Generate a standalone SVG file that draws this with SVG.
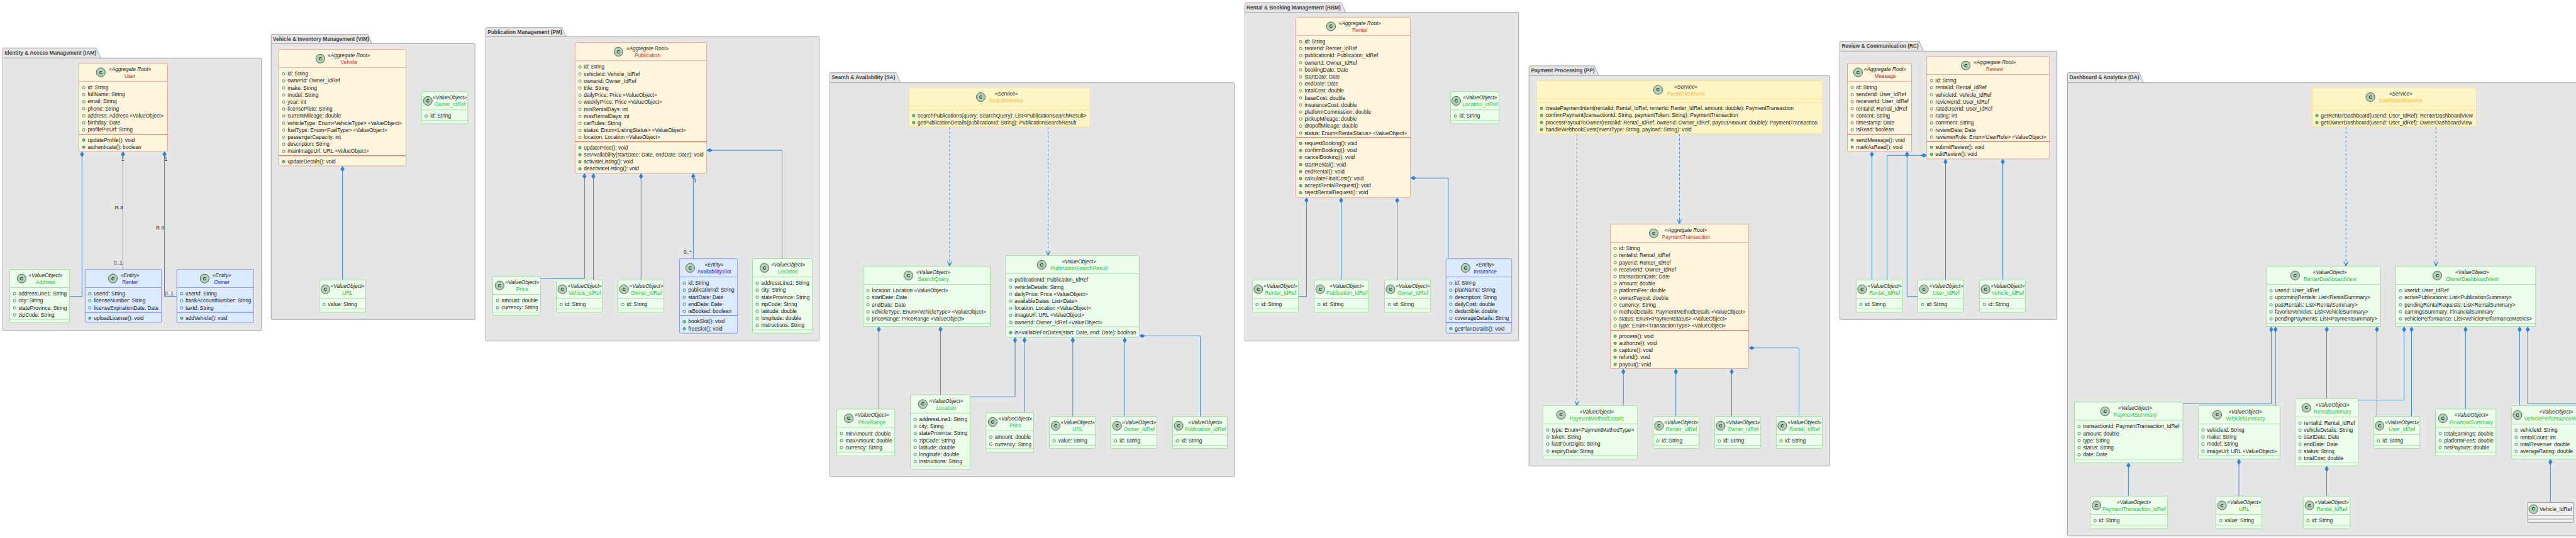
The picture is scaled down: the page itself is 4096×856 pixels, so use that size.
<svg xmlns="http://www.w3.org/2000/svg" width="4096" height="856" viewBox="0 0 4096 856">
<style>
text{font-family:"Liberation Sans",Arial,sans-serif;font-size:8.35px;fill:#222}
.pkg path,.pkg rect{fill:#E6E6E6;stroke:#A3A3A3;stroke-width:1}
.pkg text{font-weight:bold;fill:#444}
.conn path{fill:none;stroke:#3A8DD8;stroke-width:1}
.conn .c{marker-start:url(#dia)}
.conn .dep{stroke-dasharray:4 3;marker-end:url(#vee)}
.conn text{fill:#333}
.node rect{stroke-width:.9}
.node path{fill:none;stroke-width:.8}
.node circle{fill:#ADD1B2;stroke:#2a2a2a;stroke-width:.7}
.node .ic{font-size:7px;font-weight:bold;text-anchor:middle;fill:#1a1a1a}
.node .s{font-style:italic;text-anchor:middle;font-size:8.3px}
.node .n{text-anchor:middle}
.ar rect{fill:#FFF6DD;stroke:#E89B90}.ar .h{stroke:#E89B90}.ar .d{stroke:#C62828}.ar .n{fill:#D32F2F}
.vo rect{fill:#EDFFEC;stroke:#90E090}.vo .h{stroke:#90E090}.vo .d{stroke:#90E090}.vo .n{fill:#22C83C}
.en rect{fill:#DCEBFF;stroke:#8C8CEE}.en .h{stroke:#8C8CEE}.en .d{stroke:#3333CC}.en .n{fill:#2222DD}
.sv rect{fill:#FFF6C8;stroke:#FFD97A}.sv .h{stroke:#FFD97A}.sv .d{stroke:#FFD97A}.sv .n{fill:#FFB52E}
.pl rect{fill:#F1F1F1;stroke:#888}.pl .h{stroke:#888}
</style>
<defs>
<marker id="dia" viewBox="0 -3.4 9.6 6.8" refX="0" refY="0" markerUnits="userSpaceOnUse" markerWidth="9.6" markerHeight="6.8" orient="auto"><path d="M0 0L4.8-3.2L9.6 0L4.8 3.2Z" fill="#2A86D8"/></marker>
<marker id="vee" viewBox="-9 -5 10 10" refX="0" refY="0" markerUnits="userSpaceOnUse" markerWidth="10" markerHeight="10" orient="auto"><path d="M-7.6-3.4L0 0L-7.6 3.4M-6 0H0" fill="none" stroke="#2A86D8" stroke-width="1.1"/></marker>
<circle id="f" cx="7.6" r="2.1" fill="none" stroke="#038048" stroke-width=".8"/>
<circle id="m" cx="7.6" r="2.1" fill="#84BE84" stroke="#038048" stroke-width=".8"/>
</defs>

<g id="packages" class="pkg">
<g id="pkg-IAM"><path d="M4.5 92.3V78.4q0-2 2-2H153l7 15.9"/><rect x="4.5" y="92.3" width="411.1" height="433.4" rx="1"/><text x="7.2" y="87">Identity &amp; Access Management (IAM)</text></g>
<g id="pkg-VIM"><path d="M431.2 69.3V56.6q0-2 2-2H584.5l7 14.7"/><rect x="431.2" y="69.3" width="324" height="438.9" rx="1"/><text x="433.9" y="65.2">Vehicle &amp; Inventory Management (VIM)</text></g>
<g id="pkg-PM"><path d="M772.5 58.4V45.7q0-2 2-2H893l7 14.7"/><rect x="772.5" y="58.4" width="530" height="484.2" rx="1"/><text x="775.2" y="54">Publication Management (PM)</text></g>
<g id="pkg-SA"><path d="M1319.5 131.6V117.7q0-2 2-2H1424.8l7 15.9"/><rect x="1319.5" y="131.6" width="643" height="626.7" rx="1"/><text x="1322.2" y="126.4">Search &amp; Availability (SA)</text></g>
<g id="pkg-RBM"><path d="M1979.4 19.7V6.4q0-2 2-2H2132.7l7 15.3"/><rect x="1979.4" y="19.7" width="435.4" height="522.9" rx="1"/><text x="1982.1" y="14.6">Rental &amp; Booking Management (RBM)</text></g>
<g id="pkg-PP"><path d="M2431.2 120.6V106.8q0-2 2-2H2535.2l7 15.8"/><rect x="2431.2" y="120.6" width="478.4" height="620.7" rx="1"/><text x="2434.4" y="115.2">Payment Processing (PP)</text></g>
<g id="pkg-RC"><path d="M2925.3 81.3V67.5q0-2 2-2H3051.3l7 15.8"/><rect x="2925.3" y="81.3" width="345.4" height="426.9" rx="1"/><text x="2928.4" y="76">Review &amp; Communication (RC)</text></g>
<g id="pkg-DA"><path d="M3287.5 131.6V117.7q0-2 2-2H3401.5l7 15.9"/><rect x="3287.5" y="131.6" width="830" height="721.1" rx="1"/><text x="3290.6" y="126.4">Dashboard &amp; Analytics (DA)</text></g>
</g>

<g id="connectors" class="conn">
<path class="c" d="M130.4 240.7V471.7H110.3"/>
<path class="c" d="M195.5 240.7V428.5"/>
<path class="c" d="M261.6 240.7V471.7H281.2"/>
<text x="193" y="256.2">1</text><text x="182.6" y="333.2">is a</text><text x="180.8" y="421">0..1</text>
<text x="261.5" y="256.2">1</text><text x="248" y="365">is a</text><text x="262" y="470.3">0..1</text>
<path class="c" d="M544.6 264.2V445.5"/>
<path class="c" d="M929.4 275.6V443.3H859.7"/>
<path class="c" d="M943.5 275.6V445.5"/>
<path class="c" d="M1019.3 275.6V445.5"/>
<path class="c" d="M1102.3 275.6V411.6"/>
<text x="1103" y="289.6">1</text><text x="1087" y="404">0..*</text>
<path class="c" d="M1123.8 239.1H1243.5V411.6"/>
<path class="dep" d="M1510 202V423.6"/>
<path class="dep" d="M1666.6 202V406.7"/>
<path class="c" d="M1397.4 519.2V650.9"/>
<path class="c" d="M1495.4 519.2V628.3"/>
<path class="c" d="M1614 536.6V631.6H1542.5"/>
<path class="c" d="M1629 536.6V656.7"/>
<path class="c" d="M1705.8 536.6V662.7"/>
<path class="c" d="M1788.4 536.6V662.7"/>
<path class="c" d="M1811.4 534.4H1908.6V662.7"/>
<path class="c" d="M2077.4 314V471.7H2064.7"/>
<path class="c" d="M2132.5 314V445.5"/>
<path class="c" d="M2221.6 314V445.5"/>
<path class="c" d="M2242.7 283.3H2302.8V411.6"/>
<path class="dep" d="M2507.4 212.9V645.3"/>
<path class="dep" d="M2670.4 212.9V356.5"/>
<path class="c" d="M2581.2 586.6V645.3"/>
<path class="c" d="M2664.7 586.6V662.7"/>
<path class="c" d="M2753.5 586.6V662.7"/>
<path class="c" d="M2780.6 553.6H2860.6V662.7"/>
<path class="c" d="M2976.4 240.9V445.5"/>
<path class="c" d="M3032.3 240.9V471.7H3049.5"/>
<path class="c" d="M3063.7 247.3H3000.5V445.5"/>
<path class="c" d="M3093.5 252.7V445.5"/>
<path class="c" d="M3184.6 252.7V445.5"/>
<path class="dep" d="M3730.3 202V423.6"/>
<path class="dep" d="M3873.3 202V423.6"/>
<path class="c" d="M3611.4 519.4V642.5H3470.9"/>
<path class="c" d="M3618.2 519.4V645.3"/>
<path class="c" d="M3699.6 519.4V634.3"/>
<path class="c" d="M3779.4 519.4V662.7"/>
<path class="c" d="M3822.7 519.4V636.5H3749.7"/>
<path class="c" d="M3834.5 519.4V662.7"/>
<path class="c" d="M3920.4 519.4V650.9"/>
<path class="c" d="M4006.3 519.4V645.7"/>
<path class="c" d="M4019.2 519.4V642.5H4110"/>
<path class="c" d="M3384.4 735.6V789.4"/>
<path class="c" d="M3560 729.9V789.4"/>
<path class="c" d="M3699.6 741.3V789.4"/>
<path class="c" d="M4055.3 730.3V799.3"/>
</g>

<g id="User" class="node ar" transform="translate(125.5,100.4)"><rect width="141" height="140.6" rx="1.5"/><path class="h" d="M0 29H141"/><path class="d" d="M0 113.2H141"/><circle cx="34.8" cy="14.7" r="7.1"/><text class="ic" x="34.8" y="17.2">C</text><text class="s" x="81.2" y="12.5">«Aggregate Root»</text><text class="n" x="81.2" y="23.7">User</text>
<use href="#f" y="38.9"/><text x="13.9" y="41.7">id: String</text><use href="#f" y="50.1"/><text x="13.9" y="52.9">fullName: String</text><use href="#f" y="61.3"/><text x="13.9" y="64.1">email: String</text><use href="#f" y="72.5"/><text x="13.9" y="75.3">phone: String</text><use href="#f" y="83.7"/><text x="13.9" y="86.5">address: Address «ValueObject»</text><use href="#f" y="94.9"/><text x="13.9" y="97.7">birthday: Date</text><use href="#f" y="106.1"/><text x="13.9" y="108.9">profilePicUrl: String</text>
<use href="#m" y="122.5"/><text x="13.9" y="125.3">updateProfile(): void</text><use href="#m" y="133.7"/><text x="13.9" y="136.5">authenticate(): boolean</text></g>

<g id="Address" class="node vo" transform="translate(15.6,428.5)"><rect width="94.7" height="84.6" rx="1.5"/><path class="h" d="M0 29H94.7"/><path class="d" d="M0 79.6H94.7"/><circle cx="18.8" cy="14.7" r="7.1"/><text class="ic" x="18.8" y="17.2">C</text><text class="s" x="57" y="12.5">«ValueObject»</text><text class="n" x="57" y="23.7">Address</text>
<use href="#f" y="38.9"/><text x="13.9" y="41.7">addressLine1: String</text><use href="#f" y="50.1"/><text x="13.9" y="52.9">city: String</text><use href="#f" y="61.3"/><text x="13.9" y="64.1">stateProvince: String</text><use href="#f" y="72.5"/><text x="13.9" y="75.3">zipCode: String</text></g>

<g id="Renter" class="node en" transform="translate(135.3,428.5)"><rect width="121.4" height="84.6" rx="1.5"/><path class="h" d="M0 29H121.4"/><path class="d" d="M0 68.4H121.4"/><circle cx="44.2" cy="14.7" r="7.1"/><text class="ic" x="44.2" y="17.2">C</text><text class="s" x="71.4" y="12.5">«Entity»</text><text class="n" x="71.4" y="23.7">Renter</text>
<use href="#f" y="38.9"/><text x="13.9" y="41.7">userId: String</text><use href="#f" y="50.1"/><text x="13.9" y="52.9">licenseNumber: String</text><use href="#f" y="61.3"/><text x="13.9" y="64.1">licenseExpirationDate: Date</text><use href="#m" y="77.7"/><text x="13.9" y="80.5">uploadLicense(): void</text></g>

<g id="Owner" class="node en" transform="translate(281.2,428.5)"><rect width="122.3" height="84.6" rx="1.5"/><path class="h" d="M0 29H122.3"/><path class="d" d="M0 68.4H122.3"/><circle cx="44.2" cy="14.7" r="7.1"/><text class="ic" x="44.2" y="17.2">C</text><text class="s" x="71.5" y="12.5">«Entity»</text><text class="n" x="71.5" y="23.7">Owner</text>
<use href="#f" y="38.9"/><text x="13.9" y="41.7">userId: String</text><use href="#f" y="50.1"/><text x="13.9" y="52.9">bankAccountNumber: String</text><use href="#f" y="61.3"/><text x="13.9" y="64.1">taxId: String</text><use href="#m" y="77.7"/><text x="13.9" y="80.5">addVehicle(): void</text></g>

<g id="Vehicle" class="node ar" transform="translate(443.3,78.6)"><rect width="202.2" height="185.4" rx="1.5"/><path class="h" d="M0 29H202.2"/><path class="d" d="M0 169.2H202.2"/><circle cx="66" cy="14.7" r="7.1"/><text class="ic" x="66" y="17.2">C</text><text class="s" x="111.6" y="12.5">«Aggregate Root»</text><text class="n" x="111.6" y="23.7">Vehicle</text>
<use href="#f" y="38.9"/><text x="13.9" y="41.7">id: String</text><use href="#f" y="50.1"/><text x="13.9" y="52.9">ownerId: Owner_IdRef</text><use href="#f" y="61.3"/><text x="13.9" y="64.1">make: String</text><use href="#f" y="72.5"/><text x="13.9" y="75.3">model: String</text><use href="#f" y="83.7"/><text x="13.9" y="86.5">year: int</text><use href="#f" y="94.9"/><text x="13.9" y="97.7">licensePlate: String</text><use href="#f" y="106.1"/><text x="13.9" y="108.9">currentMileage: double</text><use href="#f" y="117.3"/><text x="13.9" y="120.1">vehicleType: Enum&lt;VehicleType&gt; «ValueObject»</text><use href="#f" y="128.5"/><text x="13.9" y="131.3">fuelType: Enum&lt;FuelType&gt; «ValueObject»</text><use href="#f" y="139.7"/><text x="13.9" y="142.5">passengerCapacity: int</text><use href="#f" y="150.9"/><text x="13.9" y="153.7">description: String</text><use href="#f" y="162.1"/><text x="13.9" y="164.9">mainImageUrl: URL «ValueObject»</text><use href="#m" y="178.5"/><text x="13.9" y="181.3">updateDetails(): void</text></g>

<g id="VIM-URL" class="node vo" transform="translate(507.6,445.5)"><rect width="74.1" height="51" rx="1.5"/><path class="h" d="M0 29H74.1"/><path class="d" d="M0 46H74.1"/><circle cx="9.8" cy="14.7" r="7.1"/><text class="ic" x="9.8" y="17.2">C</text><text class="s" x="45" y="12.5">«ValueObject»</text><text class="n" x="45" y="23.7">URL</text><use href="#f" y="38.9"/><text x="13.9" y="41.7">value: String</text></g>

<g id="VIM-Owner_IdRef" class="node vo" transform="translate(670.3,145.8)"><rect width="73.5" height="51" rx="1.5"/><path class="h" d="M0 29H73.5"/><path class="d" d="M0 46H73.5"/><circle cx="9.9" cy="14.7" r="7.1"/><text class="ic" x="9.9" y="17.2">C</text><text class="s" x="45.1" y="12.5">«ValueObject»</text><text class="n" x="45.1" y="23.7">Owner_IdRef</text><use href="#f" y="38.9"/><text x="13.9" y="41.7">id: String</text></g>

<g id="Publication" class="node ar" transform="translate(914.4,67.7)"><rect width="209.4" height="207.8" rx="1.5"/><path class="h" d="M0 29H209.4"/><path class="d" d="M0 158H209.4"/><circle cx="68.9" cy="14.7" r="7.1"/><text class="ic" x="68.9" y="17.2">C</text><text class="s" x="115.2" y="12.5">«Aggregate Root»</text><text class="n" x="115.2" y="23.7">Publication</text>
<use href="#f" y="38.9"/><text x="13.9" y="41.7">id: String</text><use href="#f" y="50.1"/><text x="13.9" y="52.9">vehicleId: Vehicle_IdRef</text><use href="#f" y="61.3"/><text x="13.9" y="64.1">ownerId: Owner_IdRef</text><use href="#f" y="72.5"/><text x="13.9" y="75.3">title: String</text><use href="#f" y="83.7"/><text x="13.9" y="86.5">dailyPrice: Price «ValueObject»</text><use href="#f" y="94.9"/><text x="13.9" y="97.7">weeklyPrice: Price «ValueObject»</text><use href="#f" y="106.1"/><text x="13.9" y="108.9">minRentalDays: int</text><use href="#f" y="117.3"/><text x="13.9" y="120.1">maxRentalDays: int</text><use href="#f" y="128.5"/><text x="13.9" y="131.3">carRules: String</text><use href="#f" y="139.7"/><text x="13.9" y="142.5">status: Enum&lt;ListingStatus&gt; «ValueObject»</text><use href="#f" y="150.9"/><text x="13.9" y="153.7">location: Location «ValueObject»</text>
<use href="#m" y="167.3"/><text x="13.9" y="170.1">updatePrice(): void</text><use href="#m" y="178.5"/><text x="13.9" y="181.3">setAvailability(startDate: Date, endDate: Date): void</text><use href="#m" y="189.7"/><text x="13.9" y="192.5">activateListing(): void</text><use href="#m" y="200.9"/><text x="13.9" y="203.7">deactivateListing(): void</text></g>

<g id="PM-Price" class="node vo" transform="translate(783.6,439.5)"><rect width="76.1" height="62.2" rx="1.5"/><path class="h" d="M0 29H76.1"/><path class="d" d="M0 57.2H76.1"/><circle cx="10.7" cy="14.7" r="7.1"/><text class="ic" x="10.7" y="17.2">C</text><text class="s" x="46.7" y="12.5">«ValueObject»</text><text class="n" x="46.7" y="23.7">Price</text><use href="#f" y="38.9"/><text x="13.9" y="41.7">amount: double</text><use href="#f" y="50.1"/><text x="13.9" y="52.9">currency: String</text></g>

<g id="PM-Vehicle_IdRef" class="node vo" transform="translate(884.6,445.5)"><rect width="73.1" height="51" rx="1.5"/><path class="h" d="M0 29H73.1"/><path class="d" d="M0 46H73.1"/><circle cx="9.6" cy="14.7" r="7.1"/><text class="ic" x="9.6" y="17.2">C</text><text class="s" x="45.2" y="12.5">«ValueObject»</text><text class="n" x="45.2" y="23.7">Vehicle_IdRef</text><use href="#f" y="38.9"/><text x="13.9" y="41.7">id: String</text></g>

<g id="PM-Owner_IdRef" class="node vo" transform="translate(982.6,445.5)"><rect width="73.1" height="51" rx="1.5"/><path class="h" d="M0 29H73.1"/><path class="d" d="M0 46H73.1"/><circle cx="9.6" cy="14.7" r="7.1"/><text class="ic" x="9.6" y="17.2">C</text><text class="s" x="45.1" y="12.5">«ValueObject»</text><text class="n" x="45.1" y="23.7">Owner_IdRef</text><use href="#f" y="38.9"/><text x="13.9" y="41.7">id: String</text></g>

<g id="AvailabilitySlot" class="node en" transform="translate(1080.5,411.6)"><rect width="92.3" height="118.6" rx="1.5"/><path class="h" d="M0 29H92.3"/><path class="d" d="M0 90.8H92.3"/><circle cx="16.9" cy="14.7" r="7.1"/><text class="ic" x="16.9" y="17.2">C</text><text class="s" x="55.1" y="12.5">«Entity»</text><text class="n" x="55.1" y="23.7">AvailabilitySlot</text>
<use href="#f" y="38.9"/><text x="13.9" y="41.7">id: String</text><use href="#f" y="50.1"/><text x="13.9" y="52.9">publicationId: String</text><use href="#f" y="61.3"/><text x="13.9" y="64.1">startDate: Date</text><use href="#f" y="72.5"/><text x="13.9" y="75.3">endDate: Date</text><use href="#f" y="83.7"/><text x="13.9" y="86.5">isBooked: boolean</text><use href="#m" y="100.1"/><text x="13.9" y="102.9">bookSlot(): void</text><use href="#m" y="111.3"/><text x="13.9" y="114.1">freeSlot(): void</text></g>

<g id="PM-Location" class="node vo" transform="translate(1196.5,411.6)"><rect width="95.3" height="118.6" rx="1.5"/><path class="h" d="M0 29H95.3"/><path class="d" d="M0 113.2H95.3"/><circle cx="19" cy="14.7" r="7.1"/><text class="ic" x="19" y="17.2">C</text><text class="s" x="56.5" y="12.5">«ValueObject»</text><text class="n" x="56.5" y="23.7">Location</text>
<use href="#f" y="38.9"/><text x="13.9" y="41.7">addressLine1: String</text><use href="#f" y="50.1"/><text x="13.9" y="52.9">city: String</text><use href="#f" y="61.3"/><text x="13.9" y="64.1">stateProvince: String</text><use href="#f" y="72.5"/><text x="13.9" y="75.3">zipCode: String</text><use href="#f" y="83.7"/><text x="13.9" y="86.5">latitude: double</text><use href="#f" y="94.9"/><text x="13.9" y="97.7">longitude: double</text><use href="#f" y="106.1"/><text x="13.9" y="108.9">instructions: String</text></g>

<g id="SearchService" class="node sv" transform="translate(1445.2,139.8)"><rect width="288.3" height="62.2" rx="1.5"/><path class="h" d="M0 29H288.3"/><path class="d" d="M0 34.8H288.3"/><circle cx="114.3" cy="14.7" r="7.1"/><text class="ic" x="114.3" y="17.2">C</text><text class="s" x="155" y="12.5">«Service»</text><text class="n" x="155" y="23.7">SearchService</text>
<use href="#m" y="44.1"/><text x="13.9" y="46.9">searchPublications(query: SearchQuery): List&lt;PublicationSearchResult&gt;</text><use href="#m" y="55.3"/><text x="13.9" y="58.1">getPublicationDetails(publicationId: String): PublicationSearchResult</text></g>

<g id="SearchQuery" class="node vo" transform="translate(1372.4,423.6)"><rect width="202.1" height="95.8" rx="1.5"/><path class="h" d="M0 29H202.1"/><path class="d" d="M0 90.8H202.1"/><circle cx="72" cy="14.7" r="7.1"/><text class="ic" x="72" y="17.2">C</text><text class="s" x="111.6" y="12.5">«ValueObject»</text><text class="n" x="111.6" y="23.7">SearchQuery</text>
<use href="#f" y="38.9"/><text x="13.9" y="41.7">location: Location «ValueObject»</text><use href="#f" y="50.1"/><text x="13.9" y="52.9">startDate: Date</text><use href="#f" y="61.3"/><text x="13.9" y="64.1">endDate: Date</text><use href="#f" y="72.5"/><text x="13.9" y="75.3">vehicleType: Enum&lt;VehicleType&gt; «ValueObject»</text><use href="#f" y="83.7"/><text x="13.9" y="86.5">priceRange: PriceRange «ValueObject»</text></g>

<g id="PublicationSearchResult" class="node vo" transform="translate(1599.4,406.7)"><rect width="212" height="129.7" rx="1.5"/><path class="h" d="M0 29H212"/><path class="d" d="M0 113.2H212"/><circle cx="56.9" cy="14.7" r="7.1"/><text class="ic" x="56.9" y="17.2">C</text><text class="s" x="116.3" y="12.5">«ValueObject»</text><text class="n" x="116.3" y="23.7">PublicationSearchResult</text>
<use href="#f" y="38.9"/><text x="13.9" y="41.7">publicationId: Publication_IdRef</text><use href="#f" y="50.1"/><text x="13.9" y="52.9">vehicleDetails: String</text><use href="#f" y="61.3"/><text x="13.9" y="64.1">dailyPrice: Price «ValueObject»</text><use href="#f" y="72.5"/><text x="13.9" y="75.3">availableDates: List&lt;Date&gt;</text><use href="#f" y="83.7"/><text x="13.9" y="86.5">location: Location «ValueObject»</text><use href="#f" y="94.9"/><text x="13.9" y="97.7">imageUrl: URL «ValueObject»</text><use href="#f" y="106.1"/><text x="13.9" y="108.9">ownerId: Owner_IdRef «ValueObject»</text><use href="#m" y="122.5"/><text x="13.9" y="125.3">isAvailableForDates(start: Date, end: Date): boolean</text></g>

<g id="PriceRange" class="node vo" transform="translate(1330.5,650.9)"><rect width="92.2" height="74.4" rx="1.5"/><path class="h" d="M0 29H92.2"/><path class="d" d="M0 68.4H92.2"/><circle cx="19" cy="14.7" r="7.1"/><text class="ic" x="19" y="17.2">C</text><text class="s" x="55.8" y="12.5">«ValueObject»</text><text class="n" x="55.8" y="23.7">PriceRange</text><use href="#f" y="38.9"/><text x="13.9" y="41.7">minAmount: double</text><use href="#f" y="50.1"/><text x="13.9" y="52.9">maxAmount: double</text><use href="#f" y="61.3"/><text x="13.9" y="64.1">currency: String</text></g>

<g id="SA-Location" class="node vo" transform="translate(1447.6,628.3)"><rect width="94.9" height="118.4" rx="1.5"/><path class="h" d="M0 29H94.9"/><path class="d" d="M0 113.2H94.9"/><circle cx="19.7" cy="14.7" r="7.1"/><text class="ic" x="19.7" y="17.2">C</text><text class="s" x="56.9" y="12.5">«ValueObject»</text><text class="n" x="56.9" y="23.7">Location</text>
<use href="#f" y="38.9"/><text x="13.9" y="41.7">addressLine1: String</text><use href="#f" y="50.1"/><text x="13.9" y="52.9">city: String</text><use href="#f" y="61.3"/><text x="13.9" y="64.1">stateProvince: String</text><use href="#f" y="72.5"/><text x="13.9" y="75.3">zipCode: String</text><use href="#f" y="83.7"/><text x="13.9" y="86.5">latitude: double</text><use href="#f" y="94.9"/><text x="13.9" y="97.7">longitude: double</text><use href="#f" y="106.1"/><text x="13.9" y="108.9">instructions: String</text></g>

<g id="SA-Price" class="node vo" transform="translate(1567.8,656.7)"><rect width="75.9" height="62.6" rx="1.5"/><path class="h" d="M0 29H75.9"/><path class="d" d="M0 57.2H75.9"/><circle cx="10.6" cy="14.7" r="7.1"/><text class="ic" x="10.6" y="17.2">C</text><text class="s" x="46.6" y="12.5">«ValueObject»</text><text class="n" x="46.6" y="23.7">Price</text><use href="#f" y="38.9"/><text x="13.9" y="41.7">amount: double</text><use href="#f" y="50.1"/><text x="13.9" y="52.9">currency: String</text></g>

<g id="SA-URL" class="node vo" transform="translate(1668.6,662.7)"><rect width="73.2" height="51" rx="1.5"/><path class="h" d="M0 29H73.2"/><path class="d" d="M0 46H73.2"/><circle cx="9.9" cy="14.7" r="7.1"/><text class="ic" x="9.9" y="17.2">C</text><text class="s" x="45.1" y="12.5">«ValueObject»</text><text class="n" x="45.1" y="23.7">URL</text><use href="#f" y="38.9"/><text x="13.9" y="41.7">value: String</text></g>

<g id="SA-Owner_IdRef" class="node vo" transform="translate(1766.3,662.7)"><rect width="73.4" height="51" rx="1.5"/><path class="h" d="M0 29H73.4"/><path class="d" d="M0 46H73.4"/><circle cx="9.9" cy="14.7" r="7.1"/><text class="ic" x="9.9" y="17.2">C</text><text class="s" x="45.1" y="12.5">«ValueObject»</text><text class="n" x="45.1" y="23.7">Owner_IdRef</text><use href="#f" y="38.9"/><text x="13.9" y="41.7">id: String</text></g>

<g id="SA-Publication_IdRef" class="node vo" transform="translate(1864.6,662.7)"><rect width="86.8" height="51" rx="1.5"/><path class="h" d="M0 29H86.8"/><path class="d" d="M0 46H86.8"/><circle cx="9.5" cy="14.7" r="7.1"/><text class="ic" x="9.5" y="17.2">C</text><text class="s" x="52" y="12.5">«ValueObject»</text><text class="n" x="52" y="23.7">Publication_IdRef</text><use href="#f" y="38.9"/><text x="13.9" y="41.7">id: String</text></g>

<g id="Rental" class="node ar" transform="translate(2060.5,27.3)"><rect width="182.2" height="286.9" rx="1.5"/><path class="h" d="M0 29H182.2"/><path class="d" d="M0 191.6H182.2"/><circle cx="55.9" cy="14.7" r="7.1"/><text class="ic" x="55.9" y="17.2">C</text><text class="s" x="101.8" y="12.5">«Aggregate Root»</text><text class="n" x="101.8" y="23.7">Rental</text>
<use href="#f" y="38.9"/><text x="13.9" y="41.7">id: String</text><use href="#f" y="50.1"/><text x="13.9" y="52.9">renterId: Renter_IdRef</text><use href="#f" y="61.3"/><text x="13.9" y="64.1">publicationId: Publication_IdRef</text><use href="#f" y="72.5"/><text x="13.9" y="75.3">ownerId: Owner_IdRef</text><use href="#f" y="83.7"/><text x="13.9" y="86.5">bookingDate: Date</text><use href="#f" y="94.9"/><text x="13.9" y="97.7">startDate: Date</text><use href="#f" y="106.1"/><text x="13.9" y="108.9">endDate: Date</text><use href="#f" y="117.3"/><text x="13.9" y="120.1">totalCost: double</text><use href="#f" y="128.5"/><text x="13.9" y="131.3">baseCost: double</text><use href="#f" y="139.7"/><text x="13.9" y="142.5">insuranceCost: double</text><use href="#f" y="150.9"/><text x="13.9" y="153.7">platformCommission: double</text><use href="#f" y="162.1"/><text x="13.9" y="164.9">pickupMileage: double</text><use href="#f" y="173.3"/><text x="13.9" y="176.1">dropoffMileage: double</text><use href="#f" y="184.5"/><text x="13.9" y="187.3">status: Enum&lt;RentalStatus&gt; «ValueObject»</text>
<use href="#m" y="200.9"/><text x="13.9" y="203.7">requestBooking(): void</text><use href="#m" y="212.1"/><text x="13.9" y="214.9">confirmBooking(): void</text><use href="#m" y="223.3"/><text x="13.9" y="226.1">cancelBooking(): void</text><use href="#m" y="234.5"/><text x="13.9" y="237.3">startRental(): void</text><use href="#m" y="245.7"/><text x="13.9" y="248.5">endRental(): void</text><use href="#m" y="256.9"/><text x="13.9" y="259.7">calculateFinalCost(): void</text><use href="#m" y="268.1"/><text x="13.9" y="270.9">acceptRentalRequest(): void</text><use href="#m" y="279.3"/><text x="13.9" y="282.1">rejectRentalRequest(): void</text></g>

<g id="Location_IdRef" class="node vo" transform="translate(2306.6,145.8)"><rect width="77.2" height="51" rx="1.5"/><path class="h" d="M0 29H77.2"/><path class="d" d="M0 46H77.2"/><circle cx="8.8" cy="14.7" r="7.1"/><text class="ic" x="8.8" y="17.2">C</text><text class="s" x="46.7" y="12.5">«ValueObject»</text><text class="n" x="46.7" y="23.7">Location_IdRef</text><use href="#f" y="38.9"/><text x="13.9" y="41.7">id: String</text></g>

<g id="RBM-Renter_IdRef" class="node vo" transform="translate(1991.2,445.5)"><rect width="73.5" height="51" rx="1.5"/><path class="h" d="M0 29H73.5"/><path class="d" d="M0 46H73.5"/><circle cx="9.6" cy="14.7" r="7.1"/><text class="ic" x="9.6" y="17.2">C</text><text class="s" x="45.2" y="12.5">«ValueObject»</text><text class="n" x="45.2" y="23.7">Renter_IdRef</text><use href="#f" y="38.9"/><text x="13.9" y="41.7">id: String</text></g>

<g id="RBM-Publication_IdRef" class="node vo" transform="translate(2089.6,445.5)"><rect width="86.9" height="51" rx="1.5"/><path class="h" d="M0 29H86.9"/><path class="d" d="M0 46H86.9"/><circle cx="9.6" cy="14.7" r="7.1"/><text class="ic" x="9.6" y="17.2">C</text><text class="s" x="52" y="12.5">«ValueObject»</text><text class="n" x="52" y="23.7">Publication_IdRef</text><use href="#f" y="38.9"/><text x="13.9" y="41.7">id: String</text></g>

<g id="RBM-Owner_IdRef" class="node vo" transform="translate(2201.4,445.5)"><rect width="73.4" height="51" rx="1.5"/><path class="h" d="M0 29H73.4"/><path class="d" d="M0 46H73.4"/><circle cx="9.6" cy="14.7" r="7.1"/><text class="ic" x="9.6" y="17.2">C</text><text class="s" x="45.1" y="12.5">«ValueObject»</text><text class="n" x="45.1" y="23.7">Owner_IdRef</text><use href="#f" y="38.9"/><text x="13.9" y="41.7">id: String</text></g>

<g id="Insurance" class="node en" transform="translate(2299.3,411.6)"><rect width="104.4" height="118.6" rx="1.5"/><path class="h" d="M0 29H104.4"/><path class="d" d="M0 102H104.4"/><circle cx="31" cy="14.7" r="7.1"/><text class="ic" x="31" y="17.2">C</text><text class="s" x="62.3" y="12.5">«Entity»</text><text class="n" x="62.3" y="23.7">Insurance</text>
<use href="#f" y="38.9"/><text x="13.9" y="41.7">id: String</text><use href="#f" y="50.1"/><text x="13.9" y="52.9">planName: String</text><use href="#f" y="61.3"/><text x="13.9" y="64.1">description: String</text><use href="#f" y="72.5"/><text x="13.9" y="75.3">dailyCost: double</text><use href="#f" y="83.7"/><text x="13.9" y="86.5">deductible: double</text><use href="#f" y="94.9"/><text x="13.9" y="97.7">coverageDetails: String</text><use href="#m" y="111.3"/><text x="13.9" y="114.1">getPlanDetails(): void</text></g>

<g id="PaymentService" class="node sv" transform="translate(2443.5,128.3)"><rect width="454.2" height="84.6" rx="1.5"/><path class="h" d="M0 29H454.2"/><path class="d" d="M0 34.8H454.2"/><circle cx="192.9" cy="14.7" r="7.1"/><text class="ic" x="192.9" y="17.2">C</text><text class="s" x="237.3" y="12.5">«Service»</text><text class="n" x="237.3" y="23.7">PaymentService</text>
<use href="#m" y="44.1"/><text x="13.9" y="46.9">createPaymentIntent(rentalId: Rental_IdRef, renterId: Renter_IdRef, amount: double): PaymentTransaction</text><use href="#m" y="55.3"/><text x="13.9" y="58.1">confirmPayment(transactionId: String, paymentToken: String): PaymentTransaction</text><use href="#m" y="66.5"/><text x="13.9" y="69.3">processPayoutToOwner(rentalId: Rental_IdRef, ownerId: Owner_IdRef, payoutAmount: double): PaymentTransaction</text><use href="#m" y="77.7"/><text x="13.9" y="80.5">handleWebhookEvent(eventType: String, payload: String): void</text></g>

<g id="PaymentTransaction" class="node ar" transform="translate(2560.6,356.5)"><rect width="220" height="230" rx="1.5"/><path class="h" d="M0 29H220"/><path class="d" d="M0 169.2H220"/><circle cx="68.9" cy="14.7" r="7.1"/><text class="ic" x="68.9" y="17.2">C</text><text class="s" x="120.2" y="12.5">«Aggregate Root»</text><text class="n" x="120.2" y="23.7">PaymentTransaction</text>
<use href="#f" y="38.9"/><text x="13.9" y="41.7">id: String</text><use href="#f" y="50.1"/><text x="13.9" y="52.9">rentalId: Rental_IdRef</text><use href="#f" y="61.3"/><text x="13.9" y="64.1">payerId: Renter_IdRef</text><use href="#f" y="72.5"/><text x="13.9" y="75.3">receiverId: Owner_IdRef</text><use href="#f" y="83.7"/><text x="13.9" y="86.5">transactionDate: Date</text><use href="#f" y="94.9"/><text x="13.9" y="97.7">amount: double</text><use href="#f" y="106.1"/><text x="13.9" y="108.9">platformFee: double</text><use href="#f" y="117.3"/><text x="13.9" y="120.1">ownerPayout: double</text><use href="#f" y="128.5"/><text x="13.9" y="131.3">currency: String</text><use href="#f" y="139.7"/><text x="13.9" y="142.5">methodDetails: PaymentMethodDetails «ValueObject»</text><use href="#f" y="150.9"/><text x="13.9" y="153.7">status: Enum&lt;PaymentStatus&gt; «ValueObject»</text><use href="#f" y="162.1"/><text x="13.9" y="164.9">type: Enum&lt;TransactionType&gt; «ValueObject»</text>
<use href="#m" y="178.5"/><text x="13.9" y="181.3">process(): void</text><use href="#m" y="189.7"/><text x="13.9" y="192.5">authorize(): void</text><use href="#m" y="200.9"/><text x="13.9" y="203.7">capture(): void</text><use href="#m" y="212.1"/><text x="13.9" y="214.9">refund(): void</text><use href="#m" y="223.3"/><text x="13.9" y="226.1">payout(): void</text></g>

<g id="PaymentMethodDetails" class="node vo" transform="translate(2453.4,645.3)"><rect width="150.4" height="85.1" rx="1.5"/><path class="h" d="M0 29H150.4"/><path class="d" d="M0 79.6H150.4"/><circle cx="28.7" cy="14.7" r="7.1"/><text class="ic" x="28.7" y="17.2">C</text><text class="s" x="85.4" y="12.5">«ValueObject»</text><text class="n" x="85.4" y="23.7">PaymentMethodDetails</text>
<use href="#f" y="38.9"/><text x="13.9" y="41.7">type: Enum&lt;PaymentMethodType&gt;</text><use href="#f" y="50.1"/><text x="13.9" y="52.9">token: String</text><use href="#f" y="61.3"/><text x="13.9" y="64.1">lastFourDigits: String</text><use href="#f" y="72.5"/><text x="13.9" y="75.3">expiryDate: String</text></g>

<g id="PP-Renter_IdRef" class="node vo" transform="translate(2628.3,662.7)"><rect width="73.5" height="51" rx="1.5"/><path class="h" d="M0 29H73.5"/><path class="d" d="M0 46H73.5"/><circle cx="9.6" cy="14.7" r="7.1"/><text class="ic" x="9.6" y="17.2">C</text><text class="s" x="45.2" y="12.5">«ValueObject»</text><text class="n" x="45.2" y="23.7">Renter_IdRef</text><use href="#f" y="38.9"/><text x="13.9" y="41.7">id: String</text></g>

<g id="PP-Owner_IdRef" class="node vo" transform="translate(2726.3,662.7)"><rect width="73.5" height="51" rx="1.5"/><path class="h" d="M0 29H73.5"/><path class="d" d="M0 46H73.5"/><circle cx="9.6" cy="14.7" r="7.1"/><text class="ic" x="9.6" y="17.2">C</text><text class="s" x="45.2" y="12.5">«ValueObject»</text><text class="n" x="45.2" y="23.7">Owner_IdRef</text><use href="#f" y="38.9"/><text x="13.9" y="41.7">id: String</text></g>

<g id="PP-Rental_IdRef" class="node vo" transform="translate(2824.3,662.7)"><rect width="73.4" height="51" rx="1.5"/><path class="h" d="M0 29H73.4"/><path class="d" d="M0 46H73.4"/><circle cx="9.6" cy="14.7" r="7.1"/><text class="ic" x="9.6" y="17.2">C</text><text class="s" x="45.2" y="12.5">«ValueObject»</text><text class="n" x="45.2" y="23.7">Rental_IdRef</text><use href="#f" y="38.9"/><text x="13.9" y="41.7">id: String</text></g>

<g id="Message" class="node ar" transform="translate(2937.5,100.4)"><rect width="102.1" height="140.6" rx="1.5"/><path class="h" d="M0 29H102.1"/><path class="d" d="M0 113.2H102.1"/><circle cx="16.9" cy="14.7" r="7.1"/><text class="ic" x="16.9" y="17.2">C</text><text class="s" x="60" y="12.5">«Aggregate Root»</text><text class="n" x="60" y="23.7">Message</text>
<use href="#f" y="38.9"/><text x="13.9" y="41.7">id: String</text><use href="#f" y="50.1"/><text x="13.9" y="52.9">senderId: User_IdRef</text><use href="#f" y="61.3"/><text x="13.9" y="64.1">receiverId: User_IdRef</text><use href="#f" y="72.5"/><text x="13.9" y="75.3">rentalId: Rental_IdRef</text><use href="#f" y="83.7"/><text x="13.9" y="86.5">content: String</text><use href="#f" y="94.9"/><text x="13.9" y="97.7">timestamp: Date</text><use href="#f" y="106.1"/><text x="13.9" y="108.9">isRead: boolean</text><use href="#m" y="122.5"/><text x="13.9" y="125.3">sendMessage(): void</text><use href="#m" y="133.7"/><text x="13.9" y="136.5">markAsRead(): void</text></g>

<g id="Review" class="node ar" transform="translate(3063.7,89.5)"><rect width="195.1" height="163.4" rx="1.5"/><path class="h" d="M0 29H195.1"/><path class="d" d="M0 135.6H195.1"/><circle cx="62" cy="14.7" r="7.1"/><text class="ic" x="62" y="17.2">C</text><text class="s" x="107.9" y="12.5">«Aggregate Root»</text><text class="n" x="107.9" y="23.7">Review</text>
<use href="#f" y="38.9"/><text x="13.9" y="41.7">id: String</text><use href="#f" y="50.1"/><text x="13.9" y="52.9">rentalId: Rental_IdRef</text><use href="#f" y="61.3"/><text x="13.9" y="64.1">vehicleId: Vehicle_IdRef</text><use href="#f" y="72.5"/><text x="13.9" y="75.3">reviewerId: User_IdRef</text><use href="#f" y="83.7"/><text x="13.9" y="86.5">ratedUserId: User_IdRef</text><use href="#f" y="94.9"/><text x="13.9" y="97.7">rating: int</text><use href="#f" y="106.1"/><text x="13.9" y="108.9">comment: String</text><use href="#f" y="117.3"/><text x="13.9" y="120.1">reviewDate: Date</text><use href="#f" y="128.5"/><text x="13.9" y="131.3">reviewerRole: Enum&lt;UserRole&gt; «ValueObject»</text><use href="#m" y="144.9"/><text x="13.9" y="147.7">submitReview(): void</text><use href="#m" y="156.1"/><text x="13.9" y="158.9">editReview(): void</text></g>

<g id="RC-Rental_IdRef" class="node vo" transform="translate(2951.3,445.5)"><rect width="73.3" height="51" rx="1.5"/><path class="h" d="M0 29H73.3"/><path class="d" d="M0 46H73.3"/><circle cx="9.6" cy="14.7" r="7.1"/><text class="ic" x="9.6" y="17.2">C</text><text class="s" x="45.4" y="12.5">«ValueObject»</text><text class="n" x="45.4" y="23.7">Rental_IdRef</text><use href="#f" y="38.9"/><text x="13.9" y="41.7">id: String</text></g>

<g id="RC-User_IdRef" class="node vo" transform="translate(3049.5,445.5)"><rect width="73.1" height="51" rx="1.5"/><path class="h" d="M0 29H73.1"/><path class="d" d="M0 46H73.1"/><circle cx="9.6" cy="14.7" r="7.1"/><text class="ic" x="9.6" y="17.2">C</text><text class="s" x="45.2" y="12.5">«ValueObject»</text><text class="n" x="45.2" y="23.7">User_IdRef</text><use href="#f" y="38.9"/><text x="13.9" y="41.7">id: String</text></g>

<g id="RC-Vehicle_IdRef" class="node vo" transform="translate(3147.5,445.5)"><rect width="73.1" height="51" rx="1.5"/><path class="h" d="M0 29H73.1"/><path class="d" d="M0 46H73.1"/><circle cx="9.6" cy="14.7" r="7.1"/><text class="ic" x="9.6" y="17.2">C</text><text class="s" x="45.1" y="12.5">«ValueObject»</text><text class="n" x="45.1" y="23.7">Vehicle_IdRef</text><use href="#f" y="38.9"/><text x="13.9" y="41.7">id: String</text></g>

<g id="DashboardService" class="node sv" transform="translate(3676.4,139.8)"><rect width="261.1" height="62.2" rx="1.5"/><path class="h" d="M0 29H261.1"/><path class="d" d="M0 34.8H261.1"/><circle cx="92.7" cy="14.7" r="7.1"/><text class="ic" x="92.7" y="17.2">C</text><text class="s" x="141" y="12.5">«Service»</text><text class="n" x="141" y="23.7">DashboardService</text>
<use href="#m" y="44.1"/><text x="13.9" y="46.9">getRenterDashboard(userId: User_IdRef): RenterDashboardView</text><use href="#m" y="55.3"/><text x="13.9" y="58.1">getOwnerDashboard(userId: User_IdRef): OwnerDashboardView</text></g>

<g id="RenterDashboardView" class="node vo" transform="translate(3603.4,423.6)"><rect width="182.1" height="95.8" rx="1.5"/><path class="h" d="M0 29H182.1"/><path class="d" d="M0 90.8H182.1"/><circle cx="46" cy="14.7" r="7.1"/><text class="ic" x="46" y="17.2">C</text><text class="s" x="101.5" y="12.5">«ValueObject»</text><text class="n" x="101.5" y="23.7">RenterDashboardView</text>
<use href="#f" y="38.9"/><text x="13.9" y="41.7">userId: User_IdRef</text><use href="#f" y="50.1"/><text x="13.9" y="52.9">upcomingRentals: List&lt;RentalSummary&gt;</text><use href="#f" y="61.3"/><text x="13.9" y="64.1">pastRentals: List&lt;RentalSummary&gt;</text><use href="#f" y="72.5"/><text x="13.9" y="75.3">favoriteVehicles: List&lt;VehicleSummary&gt;</text><use href="#f" y="83.7"/><text x="13.9" y="86.5">pendingPayments: List&lt;PaymentSummary&gt;</text></g>

<g id="OwnerDashboardView" class="node vo" transform="translate(3809.4,423.6)"><rect width="222.4" height="95.8" rx="1.5"/><path class="h" d="M0 29H222.4"/><path class="d" d="M0 90.8H222.4"/><circle cx="66.1" cy="14.7" r="7.1"/><text class="ic" x="66.1" y="17.2">C</text><text class="s" x="121.6" y="12.5">«ValueObject»</text><text class="n" x="121.6" y="23.7">OwnerDashboardView</text>
<use href="#f" y="38.9"/><text x="13.9" y="41.7">userId: User_IdRef</text><use href="#f" y="50.1"/><text x="13.9" y="52.9">activePublications: List&lt;PublicationSummary&gt;</text><use href="#f" y="61.3"/><text x="13.9" y="64.1">pendingRentalRequests: List&lt;RentalSummary&gt;</text><use href="#f" y="72.5"/><text x="13.9" y="75.3">earningsSummary: FinancialSummary</text><use href="#f" y="83.7"/><text x="13.9" y="86.5">vehiclePerformance: List&lt;VehiclePerformanceMetrics&gt;</text></g>

<g id="PaymentSummary" class="node vo" transform="translate(3298.3,639.8)"><rect width="172.6" height="96.4" rx="1.5"/><path class="h" d="M0 29H172.6"/><path class="d" d="M0 90.8H172.6"/><circle cx="48.9" cy="14.7" r="7.1"/><text class="ic" x="48.9" y="17.2">C</text><text class="s" x="96.8" y="12.5">«ValueObject»</text><text class="n" x="96.8" y="23.7">PaymentSummary</text>
<use href="#f" y="38.9"/><text x="13.9" y="41.7">transactionId: PaymentTransaction_IdRef</text><use href="#f" y="50.1"/><text x="13.9" y="52.9">amount: double</text><use href="#f" y="61.3"/><text x="13.9" y="64.1">type: String</text><use href="#f" y="72.5"/><text x="13.9" y="75.3">status: String</text><use href="#f" y="83.7"/><text x="13.9" y="86.5">date: Date</text></g>

<g id="PaymentTransaction_IdRef" class="node vo" transform="translate(3323.5,789.4)"><rect width="123.2" height="51.6" rx="1.5"/><path class="h" d="M0 29H123.2"/><path class="d" d="M0 46H123.2"/><circle cx="10" cy="14.7" r="7.1"/><text class="ic" x="10" y="17.2">C</text><text class="s" x="69.7" y="12.5">«ValueObject»</text><text class="n" x="69.7" y="23.7">PaymentTransaction_IdRef</text><use href="#f" y="38.9"/><text x="13.9" y="41.7">id: String</text></g>

<g id="VehicleSummary" class="node vo" transform="translate(3495.3,645.3)"><rect width="130.1" height="85" rx="1.5"/><path class="h" d="M0 29H130.1"/><path class="d" d="M0 79.6H130.1"/><circle cx="30.2" cy="14.7" r="7.1"/><text class="ic" x="30.2" y="17.2">C</text><text class="s" x="75" y="12.5">«ValueObject»</text><text class="n" x="75" y="23.7">VehicleSummary</text>
<use href="#f" y="38.9"/><text x="13.9" y="41.7">vehicleId: String</text><use href="#f" y="50.1"/><text x="13.9" y="52.9">make: String</text><use href="#f" y="61.3"/><text x="13.9" y="64.1">model: String</text><use href="#f" y="72.5"/><text x="13.9" y="75.3">imageUrl: URL «ValueObject»</text></g>

<g id="DA-URL" class="node vo" transform="translate(3523.6,789.4)"><rect width="72.9" height="51.6" rx="1.5"/><path class="h" d="M0 29H72.9"/><path class="d" d="M0 46H72.9"/><circle cx="9.5" cy="14.7" r="7.1"/><text class="ic" x="9.5" y="17.2">C</text><text class="s" x="44.8" y="12.5">«ValueObject»</text><text class="n" x="44.8" y="23.7">URL</text><use href="#f" y="38.9"/><text x="13.9" y="41.7">value: String</text></g>

<g id="RentalSummary" class="node vo" transform="translate(3649.4,634.3)"><rect width="100.3" height="107" rx="1.5"/><path class="h" d="M0 29H100.3"/><path class="d" d="M0 102H100.3"/><circle cx="17.8" cy="14.7" r="7.1"/><text class="ic" x="17.8" y="17.2">C</text><text class="s" x="59.3" y="12.5">«ValueObject»</text><text class="n" x="59.3" y="23.7">RentalSummary</text>
<use href="#f" y="38.9"/><text x="13.9" y="41.7">rentalId: Rental_IdRef</text><use href="#f" y="50.1"/><text x="13.9" y="52.9">vehicleDetails: String</text><use href="#f" y="61.3"/><text x="13.9" y="64.1">startDate: Date</text><use href="#f" y="72.5"/><text x="13.9" y="75.3">endDate: Date</text><use href="#f" y="83.7"/><text x="13.9" y="86.5">status: String</text><use href="#f" y="94.9"/><text x="13.9" y="97.7">totalCost: double</text></g>

<g id="DA-Rental_IdRef" class="node vo" transform="translate(3662.3,789.4)"><rect width="74.5" height="51.6" rx="1.5"/><path class="h" d="M0 29H74.5"/><path class="d" d="M0 46H74.5"/><circle cx="9.9" cy="14.7" r="7.1"/><text class="ic" x="9.9" y="17.2">C</text><text class="s" x="45.6" y="12.5">«ValueObject»</text><text class="n" x="45.6" y="23.7">Rental_IdRef</text><use href="#f" y="38.9"/><text x="13.9" y="41.7">id: String</text></g>

<g id="DA-User_IdRef" class="node vo" transform="translate(3774.4,662.7)"><rect width="73.4" height="51" rx="1.5"/><path class="h" d="M0 29H73.4"/><path class="d" d="M0 46H73.4"/><circle cx="9.2" cy="14.7" r="7.1"/><text class="ic" x="9.2" y="17.2">C</text><text class="s" x="44.9" y="12.5">«ValueObject»</text><text class="n" x="44.9" y="23.7">User_IdRef</text><use href="#f" y="38.9"/><text x="13.9" y="41.7">id: String</text></g>

<g id="FinancialSummary" class="node vo" transform="translate(3872.5,650.9)"><rect width="96.2" height="74.4" rx="1.5"/><path class="h" d="M0 29H96.2"/><path class="d" d="M0 68.4H96.2"/><circle cx="11.8" cy="14.7" r="7.1"/><text class="ic" x="11.8" y="17.2">C</text><text class="s" x="57" y="12.5">«ValueObject»</text><text class="n" x="57" y="23.7">FinancialSummary</text><use href="#f" y="38.9"/><text x="13.9" y="41.7">totalEarnings: double</text><use href="#f" y="50.1"/><text x="13.9" y="52.9">platformFees: double</text><use href="#f" y="61.3"/><text x="13.9" y="64.1">netPayouts: double</text></g>

<g id="VehiclePerformanceMetrics" class="node vo" transform="translate(3993.3,645.7)"><rect width="143" height="84.6" rx="1.5"/><path class="h" d="M0 29H143"/><path class="d" d="M0 79.6H143"/><circle cx="9.6" cy="14.7" r="7.1"/><text class="ic" x="9.6" y="17.2">C</text><text class="s" x="71.2" y="12.5">«ValueObject»</text><text class="n" x="71.2" y="23.7">VehiclePerformanceMetrics</text>
<use href="#f" y="38.9"/><text x="13.9" y="41.7">vehicleId: String</text><use href="#f" y="50.1"/><text x="13.9" y="52.9">rentalCount: int</text><use href="#f" y="61.3"/><text x="13.9" y="64.1">totalRevenue: double</text><use href="#f" y="72.5"/><text x="13.9" y="75.3">averageRating: double</text></g>

<g id="DA-Vehicle_IdRef" class="node pl" transform="translate(4019.3,799.3)"><rect width="73" height="32" rx="1.5"/><path class="h" d="M0 21H73M0 26.7H73"/><circle cx="9" cy="10.7" r="7.1"/><text class="ic" x="9" y="13.2">C</text><text x="18.7" y="14">Vehicle_IdRef</text></g>
</svg>
